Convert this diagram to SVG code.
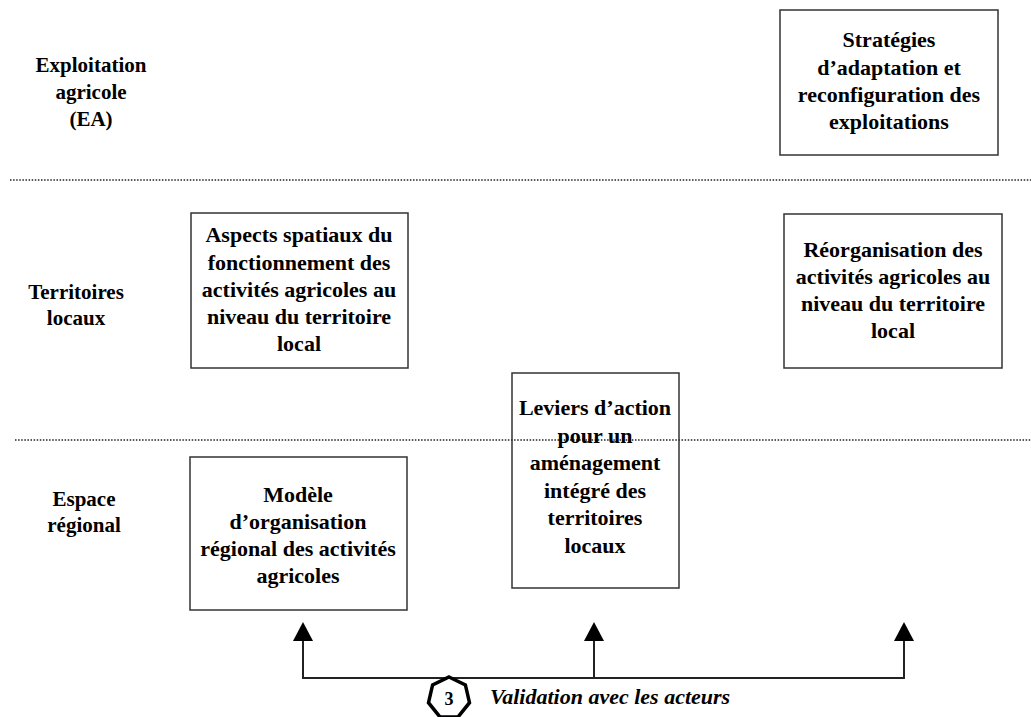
<svg xmlns="http://www.w3.org/2000/svg" width="1031" height="717" viewBox="0 0 1031 717">
<rect width="1031" height="717" fill="#fff"/>
<g id="levels">
<g stroke="#222" stroke-width="1.6" stroke-dasharray="1.5,1.6" fill="none">
<line x1="10" y1="180" x2="1031" y2="180"/>
<line x1="15" y1="440" x2="1031" y2="440"/>
</g>
<g id="label-ea">
<text style="font-family:'Liberation Serif',serif !important;font-weight:bold;font-size:21px" text-anchor="middle" x="91" y="72">Exploitation</text>
<text style="font-family:'Liberation Serif',serif !important;font-weight:bold;font-size:21px" text-anchor="middle" x="91" y="99">agricole</text>
<text style="font-family:'Liberation Serif',serif !important;font-weight:bold;font-size:21px" text-anchor="middle" x="91" y="126">(EA)</text>
</g>
<g id="label-territoires">
<text style="font-family:'Liberation Serif',serif !important;font-weight:bold;font-size:21px" text-anchor="middle" x="76" y="299">Territoires</text>
<text style="font-family:'Liberation Serif',serif !important;font-weight:bold;font-size:21px" text-anchor="middle" x="76" y="325">locaux</text>
</g>
<g id="label-espace">
<text style="font-family:'Liberation Serif',serif !important;font-weight:bold;font-size:21px" text-anchor="middle" x="84" y="506">Espace</text>
<text style="font-family:'Liberation Serif',serif !important;font-weight:bold;font-size:21px" text-anchor="middle" x="84" y="532">régional</text>
</g>
</g>
<g id="node-strategies">
<rect fill="none" stroke="#333" stroke-width="1.5" x="780" y="10" width="218" height="145"/>
<text style="font-family:'Liberation Serif',serif !important;font-weight:bold;font-size:22px" text-anchor="middle" x="889" y="47">Stratégies</text>
<text style="font-family:'Liberation Serif',serif !important;font-weight:bold;font-size:22px" text-anchor="middle" x="889" y="75">d’adaptation et</text>
<text style="font-family:'Liberation Serif',serif !important;font-weight:bold;font-size:22px" text-anchor="middle" x="889" y="102">reconfiguration des</text>
<text style="font-family:'Liberation Serif',serif !important;font-weight:bold;font-size:22px" text-anchor="middle" x="889" y="129">exploitations</text>
</g>
<g id="node-aspects">
<rect fill="none" stroke="#333" stroke-width="1.5" x="191" y="213" width="217" height="155"/>
<text style="font-family:'Liberation Serif',serif !important;font-weight:bold;font-size:22px" text-anchor="middle" x="299" y="242">Aspects spatiaux du</text>
<text style="font-family:'Liberation Serif',serif !important;font-weight:bold;font-size:22px" text-anchor="middle" x="299" y="270">fonctionnement des</text>
<text style="font-family:'Liberation Serif',serif !important;font-weight:bold;font-size:22px" text-anchor="middle" x="299" y="297">activités agricoles au</text>
<text style="font-family:'Liberation Serif',serif !important;font-weight:bold;font-size:22px" text-anchor="middle" x="299" y="324">niveau du territoire</text>
<text style="font-family:'Liberation Serif',serif !important;font-weight:bold;font-size:22px" text-anchor="middle" x="299" y="351">local</text>
</g>
<g id="node-reorganisation">
<rect fill="none" stroke="#333" stroke-width="1.5" x="784" y="214" width="218" height="154"/>
<text style="font-family:'Liberation Serif',serif !important;font-weight:bold;font-size:22px" text-anchor="middle" x="893" y="257">Réorganisation des</text>
<text style="font-family:'Liberation Serif',serif !important;font-weight:bold;font-size:22px" text-anchor="middle" x="893" y="284">activités agricoles au</text>
<text style="font-family:'Liberation Serif',serif !important;font-weight:bold;font-size:22px" text-anchor="middle" x="893" y="311">niveau du territoire</text>
<text style="font-family:'Liberation Serif',serif !important;font-weight:bold;font-size:22px" text-anchor="middle" x="893" y="338">local</text>
</g>
<g id="node-leviers">
<rect fill="none" stroke="#333" stroke-width="1.5" x="512" y="373" width="167" height="215"/>
<text style="font-family:'Liberation Serif',serif !important;font-weight:bold;font-size:22px" text-anchor="middle" x="595" y="415">Leviers d’action</text>
<text style="font-family:'Liberation Serif',serif !important;font-weight:bold;font-size:22px" text-anchor="middle" x="595" y="443">pour un</text>
<text style="font-family:'Liberation Serif',serif !important;font-weight:bold;font-size:22px" text-anchor="middle" x="595" y="470">aménagement</text>
<text style="font-family:'Liberation Serif',serif !important;font-weight:bold;font-size:22px" text-anchor="middle" x="595" y="498">intégré des</text>
<text style="font-family:'Liberation Serif',serif !important;font-weight:bold;font-size:22px" text-anchor="middle" x="595" y="525">territoires</text>
<text style="font-family:'Liberation Serif',serif !important;font-weight:bold;font-size:22px" text-anchor="middle" x="595" y="553">locaux</text>
</g>
<g id="node-modele">
<rect fill="none" stroke="#333" stroke-width="1.5" x="190" y="457" width="217" height="153"/>
<text style="font-family:'Liberation Serif',serif !important;font-weight:bold;font-size:22px" text-anchor="middle" x="298" y="502">Modèle</text>
<text style="font-family:'Liberation Serif',serif !important;font-weight:bold;font-size:22px" text-anchor="middle" x="298" y="529">d’organisation</text>
<text style="font-family:'Liberation Serif',serif !important;font-weight:bold;font-size:22px" text-anchor="middle" x="298" y="556">régional des activités</text>
<text style="font-family:'Liberation Serif',serif !important;font-weight:bold;font-size:22px" text-anchor="middle" x="298" y="583">agricoles</text>
</g>
<g id="connectors">
<g stroke="#222" stroke-width="2" fill="none">
<polyline points="303,640 303,678 904,678 904,640"/>
<line x1="594" y1="678" x2="594" y2="640"/>
</g>
<g fill="#000">
<polygon points="303,622 313,641 293,641"/>
<polygon points="594,622 604,641 584,641"/>
<polygon points="904,622 914,641 894,641"/>
</g>
</g>
<g id="node-validation">
<polygon points="449,677 465.4,684.9 469.5,702.7 458.1,716.9 439.9,716.9 428.5,702.7 432.6,684.9" fill="#fff" stroke="#000" stroke-width="3.5" stroke-linejoin="miter"/>
<text style="font-family:'Liberation Serif',serif !important;font-weight:bold;font-size:18px" text-anchor="middle" x="449" y="705">3</text>
<text style="font-family:'Liberation Serif',serif !important;font-weight:bold;font-style:italic;font-size:22px" x="490" y="704">Validation avec les acteurs</text>
</g>
</svg>
